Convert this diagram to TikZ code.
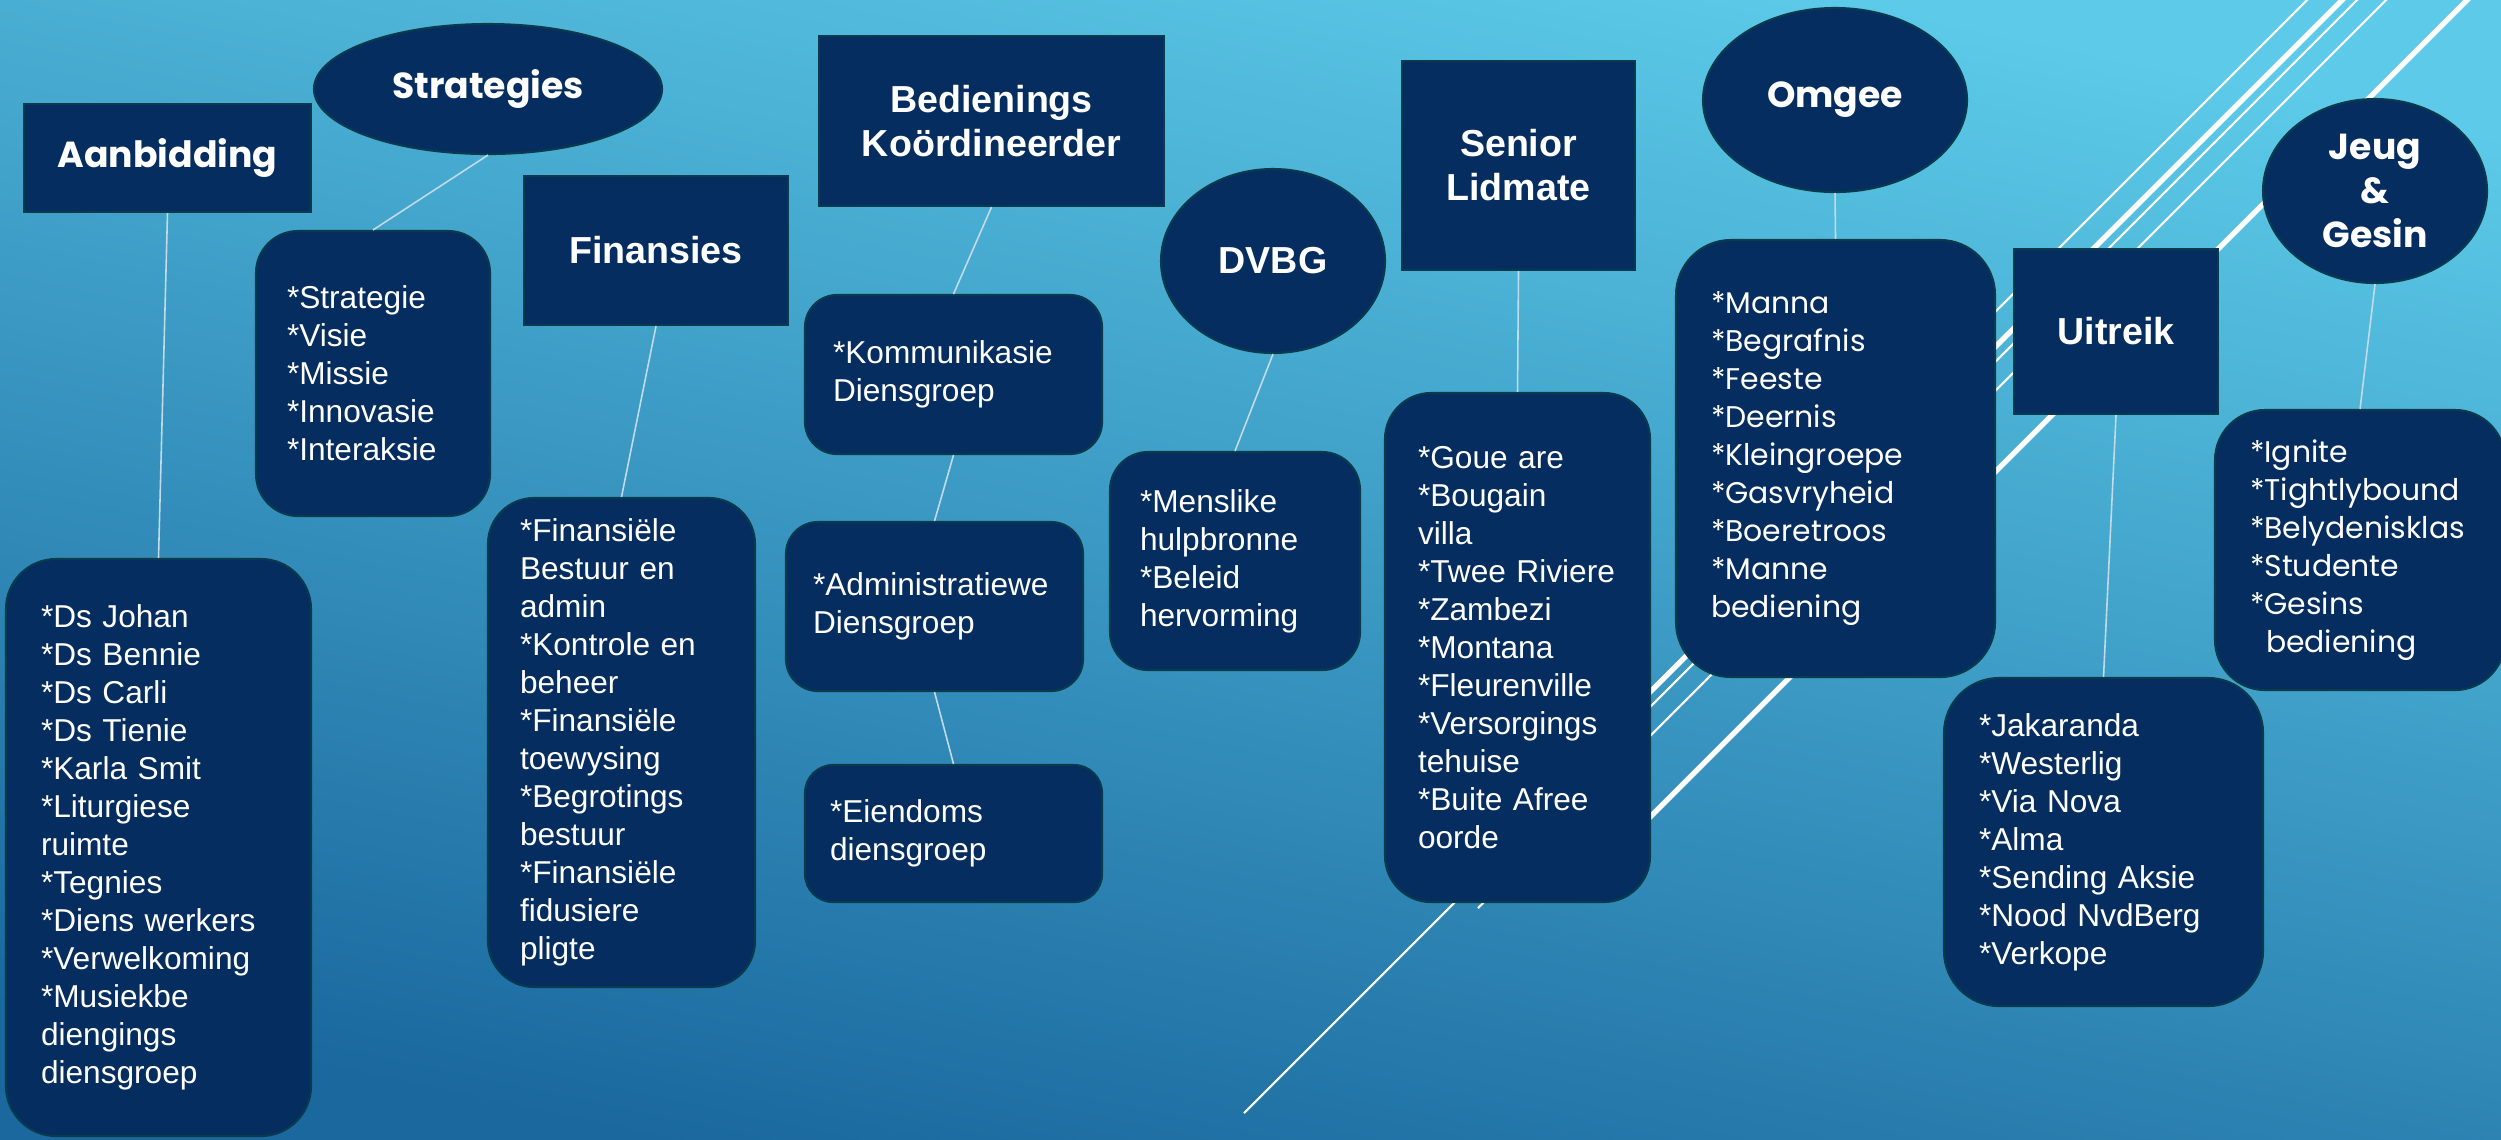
\documentclass[tikz,border=0pt]{standalone}
\usepackage{fontspec}
\setmainfont{Liberation Sans}
\newfontfamily\geofont{Poppins}
\usetikzlibrary{shapes.geometric}

\definecolor{navy}{RGB}{5,45,95}
\definecolor{rim}{RGB}{10,58,78}
\definecolor{skytop}{RGB}{92,202,232}
\definecolor{skybot}{RGB}{26,104,158}
\definecolor{wire}{RGB}{195,218,232}

\pgfdeclarelayer{background}
\pgfsetlayers{background,main}

\begin{document}
\begin{tikzpicture}[
    head/.style={rectangle, fill=navy, draw=rim, line width=0.6pt, text=white,
        align=center, inner sep=0pt, font=\fontsize{10.7}{12.5}\selectfont\bfseries},
    bubble/.style={ellipse, fill=navy, draw=rim, line width=0.6pt, text=white,
        align=center, inner sep=0pt, font=\fontsize{10.7}{12.5}\selectfont\bfseries},
    geotitle/.style={font=\geofont\fontsize{10.3}{12.5}\selectfont\bfseries},
    listbox/.style={rectangle, fill=navy, draw=rim, line width=0.6pt, text=white,
        align=left, inner ysep=0pt, inner xsep=0.32cm, font=\fontsize{9}{10.8}\selectfont},
    geolist/.style={font=\geofont\fontsize{8.5}{10.8}\selectfont},
    link/.style={draw=wire, line width=0.45pt},
    trail/.style={draw=white, line width=0.6pt},
    widetrail/.style={draw=white, line width=1.5pt}
]
\useasboundingbox (0,0) rectangle (25.01,-11.39);

% heads
\node[head, geotitle, minimum width=2.87cm, minimum height=1.08cm] (aanbidding) at (1.675,-1.58) {Aanbidding};
\node[bubble, geotitle, minimum width=3.48cm, minimum height=1.30cm] (strategies) at (4.88,-0.89) {Strategies};
\node[head, minimum width=2.64cm, minimum height=1.49cm] (finansies) at (6.56,-2.505) {Finansies};
\node[head, minimum width=3.45cm, minimum height=1.70cm] (bediening) at (9.915,-1.21) {Bedienings\\Koördineerder};
\node[bubble, minimum width=2.24cm, minimum height=1.84cm] (dvbg) at (12.73,-2.61) {DVBG};
\node[head, minimum width=2.33cm, minimum height=2.09cm] (senior) at (15.185,-1.655) {Senior\\Lidmate};
\node[bubble, geotitle, minimum width=2.64cm, minimum height=1.84cm] (omgee) at (18.35,-1.0) {Omgee};
\node[head, minimum width=2.04cm, minimum height=1.65cm] (uitreik) at (21.16,-3.315) {Uitreik};
\node[bubble, geotitle, minimum width=2.24cm, minimum height=1.84cm] (jeug) at (23.75,-1.91) {Jeug\\\&\\Gesin};

% lists
\node[listbox, rounded corners=0.5cm, text width=2.35cm, minimum height=5.77cm, inner xsep=0.35cm] (aanblist) at (1.585,-8.475)
  {*Ds~Johan\\{}*Ds~Bennie\\{}*Ds~Carli\\{}*Ds~Tienie\\{}*Karla~Smit\\{}*Liturgiese\\ruimte\\{}*Tegnies\\{}*Diens~werkers\\{}*Verwelkoming\\{}*Musiekbe\\diengings\\diensgroep};
\node[listbox, rounded corners=0.42cm, text width=1.72cm, minimum height=2.85cm, inner xsep=0.31cm] (stratlist) at (3.73,-3.735)
  {*Strategie\\{}*Visie\\{}*Missie\\{}*Innovasie\\{}*Interaksie};
\node[listbox, rounded corners=0.46cm, text width=2.03cm, minimum height=4.89cm] (finlist) at (6.215,-7.425)
  {*Finansiële\\Bestuur~en\\admin\\{}*Kontrole~en\\beheer\\{}*Finansiële\\toewysing\\{}*Begrotings\\bestuur\\{}*Finansiële\\fidusiere\\pligte};
\node[listbox, rounded corners=0.32cm, text width=2.41cm, minimum height=1.59cm, inner xsep=0.28cm] (kommlist) at (9.535,-3.745)
  {*Kommunikasie\\Diensgroep};
\node[listbox, rounded corners=0.32cm, text width=2.43cm, minimum height=1.69cm, inner xsep=0.27cm] (adminlist) at (9.345,-6.065)
  {*Administratiewe\\Diensgroep};
\node[listbox, rounded corners=0.28cm, text width=2.47cm, minimum height=1.37cm, inner xsep=0.25cm] (eiendomlist) at (9.535,-8.335)
  {*Eiendoms\\diensgroep};
\node[listbox, rounded corners=0.38cm, text width=1.90cm, minimum height=2.18cm, inner xsep=0.30cm] (dvbglist) at (12.35,-5.61)
  {*Menslike\\hulpbronne\\{}*Beleid\\hervorming};
\node[listbox, rounded corners=0.46cm, text width=1.99cm, minimum height=5.09cm, inner xsep=0.33cm] (seniorlist) at (15.175,-6.475)
  {*Goue~are\\{}*Bougain\\villa\\{}*Twee~Riviere\\{}*Zambezi\\{}*Montana\\{}*Fleurenville\\{}*Versorgings\\tehuise\\{}*Buite~Afree\\oorde};
\node[listbox, geolist, rounded corners=0.55cm, text width=2.49cm, minimum height=4.37cm, inner xsep=0.35cm] (omgeelist) at (18.355,-4.585)
  {*Manna\\{}*Begrafnis\\{}*Feeste\\{}*Deernis\\{}*Kleingroepe\\{}*Gasvryheid\\{}*Boeretroos\\{}*Manne\\bediening};
\node[listbox, rounded corners=0.55cm, text width=2.49cm, minimum height=3.28cm, inner xsep=0.35cm] (uitreiklist) at (21.035,-8.42)
  {*Jakaranda\\{}*Westerlig\\{}*Via~Nova\\{}*Alma\\{}*Sending~Aksie\\{}*Nood~NvdBerg\\{}*Verkope};
\node[listbox, geolist, rounded corners=0.5cm, text width=2.20cm, minimum height=2.80cm, inner xsep=0.35cm] (jeuglist) at (23.60,-5.50)
  {*Ignite\\{}*Tightlybound\\{}*Belydenisklas\\{}*Studente\\{}*Gesins\\\hspace*{0.16cm}bediening};

% links
\draw[link] (aanbidding.south) -- (aanblist.north);
\draw[link] (strategies.south) -- (stratlist.north);
\draw[link] (finansies.south) -- (finlist.north);
\draw[link] (bediening.south) -- (kommlist.north);
\draw[link] (kommlist.south) -- (adminlist.north);
\draw[link] (adminlist.south) -- (eiendomlist.north);
\draw[link] (dvbg.south) -- (dvbglist.north);
\draw[link] (senior.south) -- (seniorlist.north);
\draw[link] (omgee.south) -- (omgeelist.north);
\draw[link] (uitreik.south) -- (uitreiklist.north);
\draw[link] (jeug.south) -- (jeuglist.north);

\begin{pgfonlayer}{background}
  \shade[top color=skytop, bottom color=skybot, shading angle=-12] (0,0) rectangle (25.01,-11.39);
  % white trails
  \draw[trail] (23.17,0.1) -- (17.20,-5.87);
  \draw[widetrail] (23.52,0.1) -- (15.00,-8.42);
  \draw[trail] (23.67,0.1) -- (12.44,-11.13);
  \draw[trail] (23.96,0.1) -- (14.78,-9.08);
  \draw[widetrail] (24.77,0.1) -- (16.00,-8.67);
\end{pgfonlayer}
\end{tikzpicture}
\end{document}
